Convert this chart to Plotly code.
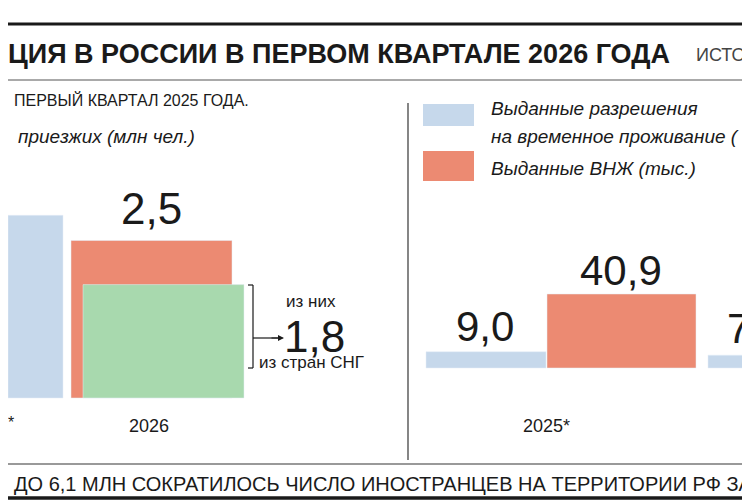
import plotly.graph_objects as go

left_labels = ["2025", "2026", "2026 СНГ"]
left_values = [2.9, 2.5, 1.8]          # млн чел.
right_labels = ["ВРП 2025*", "ВНЖ 2025*", "ВРП 2026"]
right_values = [9.0, 40.9, 7.1]        # тыс.
value_text_right = ["9,0", "40,9", "7,1"]

BLUE, ORANGE, GREEN = "#c6d8eb", "#ec8a72", "#a8d9ae"
F = "Liberation Sans Narrow, Liberation Sans, Arial"

fig = go.Figure()
fig.add_bar(x=[27.5], y=[left_values[0]], width=[55], marker_color=BLUE, xaxis="x", yaxis="y")
fig.add_bar(x=[143.5], y=[left_values[1]], width=[161], marker_color=ORANGE, xaxis="x", yaxis="y")
fig.add_bar(x=[155.5], y=[left_values[2]], width=[161], marker_color=GREEN, xaxis="x", yaxis="y")
fig.add_bar(x=[478, 613.5, 760], y=right_values, width=[120, 149, 120],
            marker_color=[BLUE, ORANGE, BLUE], xaxis="x", yaxis="y2")

def yr(base_px, px_per_unit):
    hi = base_px / px_per_unit
    lo = -(500 - base_px) / px_per_unit
    return [lo, hi]

fig.update_layout(
    width=750, height=500, margin=dict(l=0, r=0, t=0, b=0),
    paper_bgcolor="white", plot_bgcolor="white", showlegend=False, barmode="overlay",
    xaxis=dict(range=[0, 750], visible=False, fixedrange=True),
    yaxis=dict(range=yr(390, 63), visible=False),
    yaxis2=dict(range=yr(360, 74 / 40.9), visible=False, overlaying="y"),
    font=dict(family=F, color="#1a1a1a"),
)

def T(x, y, s, size, **kw):
    fig.add_annotation(x=x, y=y, xref="paper", yref="paper", text=s, showarrow=False,
                       font=dict(size=size, family=kw.pop("family", F), color=kw.pop("color", "#1a1a1a")),
                       xanchor=kw.pop("xa", "left"), yanchor="middle", **kw)

px = lambda v: v / 750
py = lambda v: 1 - v / 500

T(px(-2), py(46), "<b>ЦИЯ В РОССИИ В ПЕРВОМ КВАРТАЛЕ 2026 ГОДА</b>", 27, family="Liberation Sans")
T(px(686), py(47), "ИСТОЧ", 18, color="#444")
T(px(4), py(92), "ПЕРВЫЙ КВАРТАЛ 2025 ГОДА.", 16)
T(px(8), py(128), "<i>приезжих (млн чел.)</i>", 19)
T(px(481), py(101), "<i>Выданные разрешения</i>", 19)
T(px(481), py(128), "<i>на временное проживание (</i>", 19)
T(px(481), py(160), "<i>Выданные ВНЖ (тыс.)</i>", 19)
T(px(143), py(200), "2,5", 44, xa="center")
T(px(477), py(318), value_text_right[0], 42, xa="center")
T(px(613), py(262), value_text_right[1], 42, xa="center")
T(px(717), py(320), value_text_right[2], 42)
T(px(303), py(293), "из них", 17, xa="center")
T(px(306), py(328), "1,8", 44, xa="center")
T(px(303), py(354), "из стран СНГ", 17, xa="center")
T(px(141), py(418), "2026", 18, xa="center")
T(px(538), py(418), "2025*", 18, xa="center")
T(px(-2), py(414), "*", 16)
T(px(4), py(476), "ДО 6,1 МЛН СОКРАТИЛОСЬ ЧИСЛО ИНОСТРАНЦЕВ НА ТЕРРИТОРИИ РФ ЗА", 20)

def L(x0, y0, x1, y1, w, c="#1a1a1a"):
    fig.add_shape(type="line", xref="paper", yref="paper", x0=px(x0), y0=py(y0), x1=px(x1), y1=py(y1),
                  line=dict(width=w, color=c))

L(0, 16, 750, 16, 3)
L(0, 72, 750, 72, 1, "#555")
L(400, 95, 400, 452, 1.3, "#444")
L(0, 456, 750, 456, 1.5, "#777")
L(0, 490, 750, 490, 3.5)
L(245, 277, 245, 360, 1.2)
L(240, 277, 245, 277, 1.2)
L(240, 360, 245, 360, 1.2)
L(245, 330, 272, 330, 1.2)
fig.add_annotation(x=px(276), y=py(330), ax=-14, ay=0, xref="paper", yref="paper",
                   text="", showarrow=True, arrowhead=2,
                   arrowsize=1, arrowwidth=1.2, arrowcolor="#1a1a1a")
fig.add_shape(type="rect", xref="paper", yref="paper", x0=px(415), x1=px(466), y0=py(96), y1=py(118),
              fillcolor=BLUE, line_width=0)
fig.add_shape(type="rect", xref="paper", yref="paper", x0=px(415), x1=px(466), y0=py(143), y1=py(173),
              fillcolor=ORANGE, line_width=0)

fig.write_html("out.html")
